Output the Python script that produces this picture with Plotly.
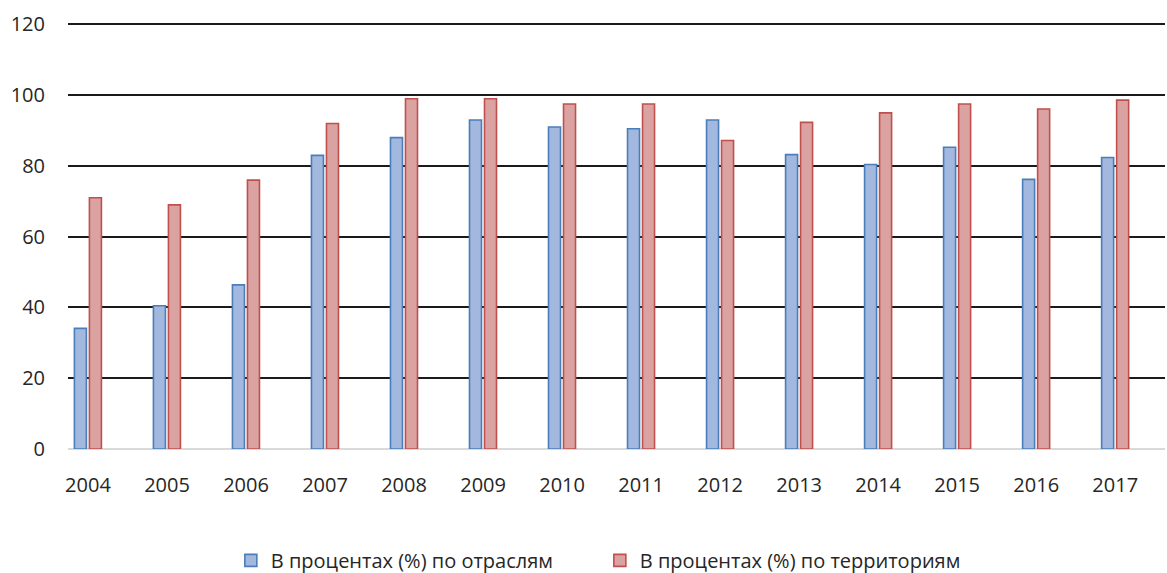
import plotly.graph_objects as go

# Годы и доли (%) по двум разрезам
years = ["2004", "2005", "2006", "2007", "2008", "2009", "2010",
         "2011", "2012", "2013", "2014", "2015", "2016", "2017"]
by_industry = [34.1, 40.5, 46.4, 83.0, 88.0, 93.0, 91.0,
               90.5, 93.0, 83.2, 80.4, 85.3, 76.2, 82.4]
by_territory = [71.0, 69.0, 76.0, 92.0, 99.0, 99.0, 97.5,
                97.5, 87.2, 92.3, 95.0, 97.5, 96.1, 98.6]
y_ticks = [0, 20, 40, 60, 80, 100, 120]

FONT = "Open Sans, Liberation Sans, sans-serif"
TEXT = "#262626"

fig = go.Figure()
fig.add_trace(go.Bar(
    x=years, y=by_industry, name="В процентах (%) по отраслям",
    width=0.152, offset=-0.172,
    marker=dict(color="#a2b8de", line=dict(color="#4a7ebb", width=1.6)),
))
fig.add_trace(go.Bar(
    x=years, y=by_territory, name="В процентах (%) по территориям",
    width=0.152, offset=0.018,
    marker=dict(color="#dba2a2", line=dict(color="#c0504d", width=1.6)),
))

fig.update_layout(
    width=1167, height=573,
    margin=dict(l=68, r=2, t=23, b=124),
    paper_bgcolor="white", plot_bgcolor="white",
    font=dict(family=FONT, size=20, color=TEXT),
    barmode="overlay",
    showlegend=True,
    legend=dict(
        orientation="h", xref="container", yref="container",
        x=0.514, xanchor="center", y=0.022, yanchor="middle",
        font=dict(family=FONT, size=20, color=TEXT),
        itemwidth=30, entrywidth=324, traceorder="normal",
    ),
)
fig.update_xaxes(
    type="category", range=[-0.253, 13.63],
    showgrid=False, showline=False, zeroline=False,
    ticks="", ticklabelstandoff=22,
    tickfont=dict(family=FONT, size=20, color=TEXT),
)
# небольшой запас сверху, чтобы линия сетки на 120 была видна
fig.update_yaxes(
    range=[0, 120.4], tickvals=y_ticks,
    showgrid=True, gridcolor="#1a1a1a", gridwidth=2,
    zeroline=True, zerolinecolor="#d9d9d9", zerolinewidth=2,
    showline=False, ticks="", ticklabelstandoff=22,
    tickfont=dict(family=FONT, size=20, color=TEXT),
)

fig.write_html("out.html")
